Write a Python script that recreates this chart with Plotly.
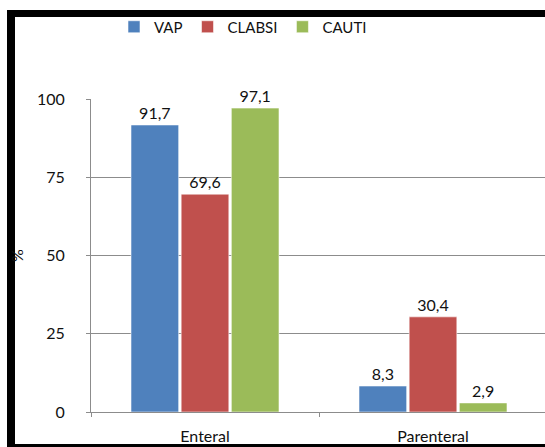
import plotly.graph_objects as go

# Share of device-associated infections by nutrition route
categories = ["Enteral", "Parenteral"]
vap = [91.7, 8.3]
clabsi = [69.6, 30.4]
cauti = [97.1, 2.9]
y_ticks = [0, 25, 50, 75, 100]

series = [
    ("VAP", vap, "#4F81BD"),
    ("CLABSI", clabsi, "#C0504D"),
    ("CAUTI", cauti, "#9BBB59"),
]

W, H = 545, 447
L, R, T, B = 91, 0, 99, 35
pw = W - L - R
ph = H - T - B

FONT = "Lato, 'Open Sans', sans-serif"
INK = "#111111"

fig = go.Figure()
for name, vals, color in series:
    fig.add_trace(go.Bar(
        name=name,
        x=categories,
        y=vals,
        marker=dict(color=color, line=dict(color="rgba(255,255,255,0.55)", width=1)),
        texttemplate="%{y:.1f}",
        textposition="outside",
        textfont=dict(size=16, color=INK, family=FONT),
        cliponaxis=False,
    ))


def px_x(p):
    return (p - L) / pw


def px_y(p):
    return (H - B - p) / ph


# black frame around the figure (top, left, bottom edges)
frame = [
    (px_x(7), px_y(10), px_x(W + 5), px_y(17)),
    (px_x(7), px_y(10), px_x(15), px_y(H + 5)),
    (px_x(7), px_y(444), px_x(W + 5), px_y(H + 5)),
]
shapes = [
    dict(type="rect", xref="paper", yref="paper", x0=x0, y0=y0, x1=x1, y1=y1,
         fillcolor="black", line=dict(width=0), layer="above")
    for x0, y0, x1, y1 in frame
]

fig.update_layout(
    width=W, height=H,
    margin=dict(l=L, r=R, t=T, b=B, pad=0),
    paper_bgcolor="white", plot_bgcolor="white",
    separators=",.",
    barmode="group",
    bargap=0.34,
    bargroupgap=0.05,
    font=dict(family=FONT, size=15, color=INK),
    showlegend=True,
    legend=dict(
        orientation="h", x=px_x(243), y=px_y(27), xanchor="center", yanchor="middle",
        font=dict(size=15, family=FONT, color=INK), bgcolor="rgba(0,0,0,0)",
        itemwidth=30, traceorder="normal",
    ),
    shapes=shapes,
    xaxis=dict(
        range=[-0.5, 1.5 - 2 / 228],
        showline=True, linecolor="#8c8c8c", linewidth=1,
        ticks="outside", tickson="boundaries", ticklen=4, tickcolor="#8c8c8c",
        ticklabelstandoff=10,
        tickfont=dict(size=16, family=FONT, color=INK),
        showgrid=False, zeroline=False,
    ),
    yaxis=dict(
        range=[0, 100],
        tickvals=y_ticks,
        showline=True, linecolor="#8c8c8c", linewidth=1,
        ticks="outside", ticklen=4, tickcolor="#8c8c8c",
        ticklabelstandoff=18,
        tickfont=dict(size=16, family=FONT, color=INK),
        showgrid=True, gridcolor="#8c8c8c", gridwidth=1,
        zeroline=False,
        title=dict(text="%", font=dict(size=16, family=FONT, color=INK), standoff=9),
    ),
)

fig.write_html("out.html")
